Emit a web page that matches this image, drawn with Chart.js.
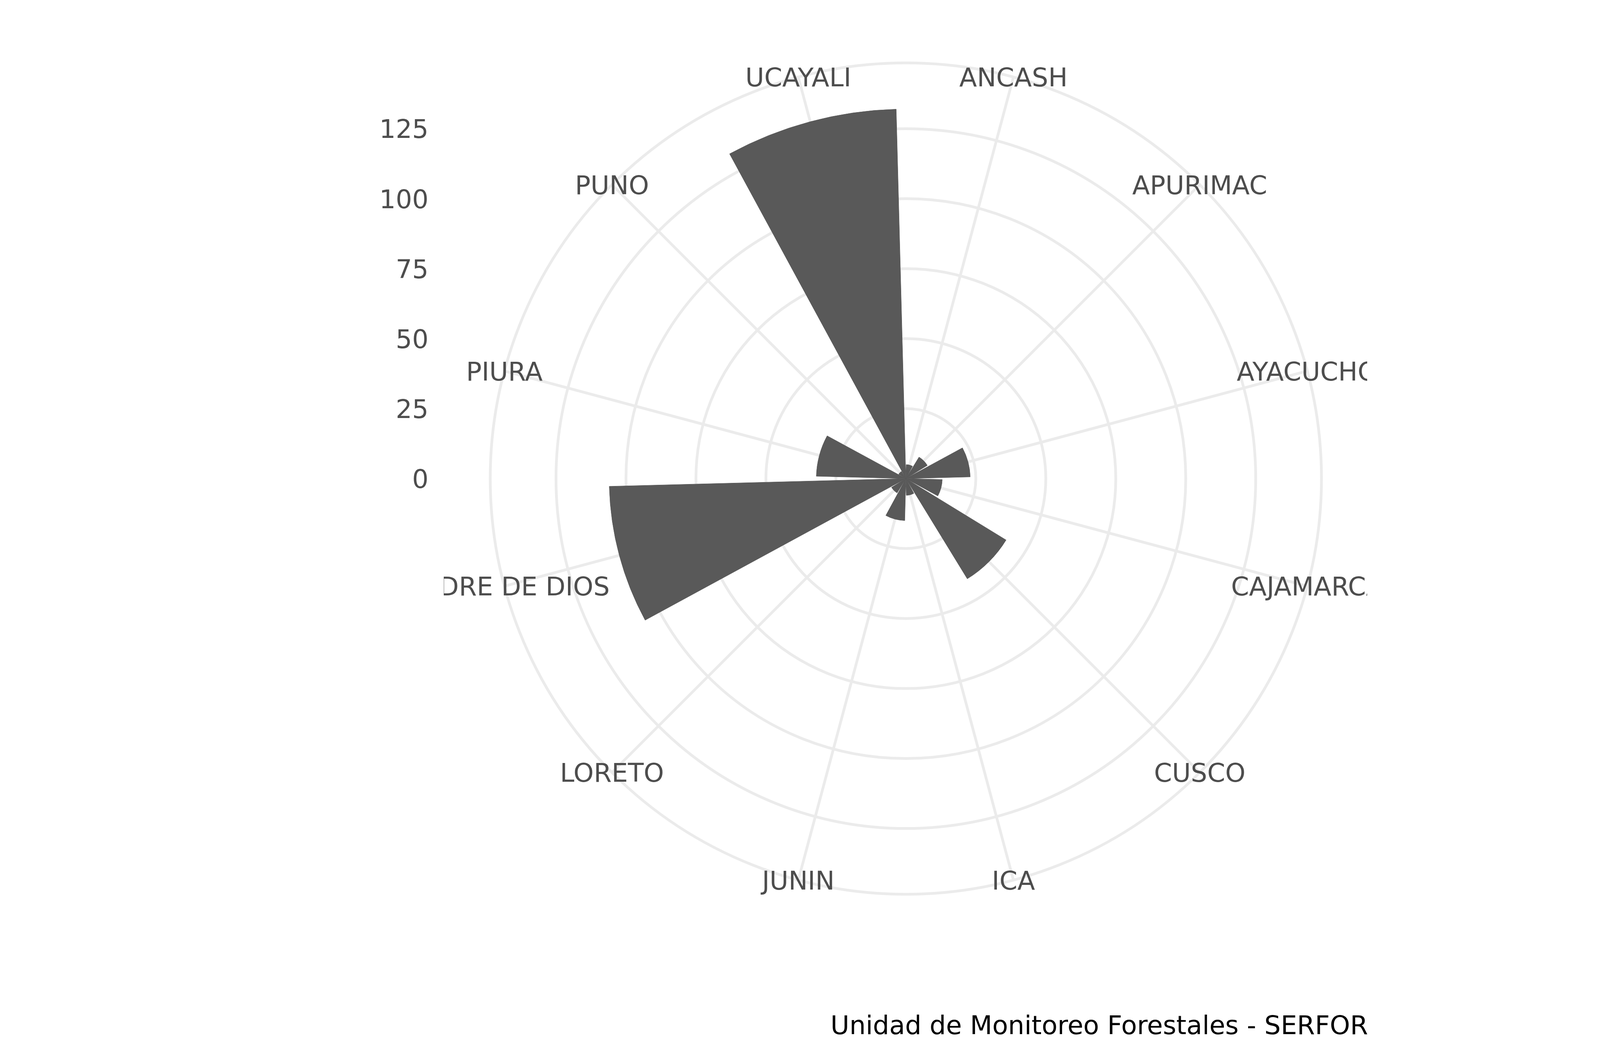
<!DOCTYPE html>
<html lang="es">
  <head>
    <meta charset="UTF-8" />
    <title>Departamentos - SERFOR</title>
    <style>
      html, body { margin: 0; padding: 0; background: #fff; }
      #caja { width: 4375px; height: 2703px; }
    </style>
  </head>
  <body>
    <div id="caja">
      <canvas id="lienzo"></canvas>
    </div>
    <script src="https://cdn.jsdelivr.net/npm/chart.js"></script>
    <script>
      // datos
      const departamentos = ["ANCASH", "APURIMAC", "AYACUCHO", "CAJAMARCA", "CUSCO", "ICA",
        "JUNIN", "LORETO", "MADRE DE DIOS", "PIURA", "PUNO", "UCAYALI"];
      const cantidades = [5, 9, 23, 13, 42, 6, 15, 6, 106, 32, 3, 132];
      const marcasEje = [0, 25, 50, 75, 100, 125];
      const radioMax = 148.5;
      const nota = "Unidad de Monitoreo Forestales - SERFOR";

      const gris = "#595959";
      const fuente = '66px "DejaVu Sans"';

      // cada barra ocupa 0.9 de su sector de 30 grados; la primera se parte en dos
      const paso = 360 / departamentos.length;
      const anchoBarra = paso * 0.9;
      const hueco = paso - anchoBarra;
      const sectores = [{ v: cantidades[0], a: anchoBarra / 2 }];
      for (let i = 1; i < cantidades.length; i++) {
        sectores.push({ v: 0, a: hueco, hueco: true });
        sectores.push({ v: cantidades[i], a: anchoBarra });
      }
      sectores.push({ v: 0, a: hueco, hueco: true });
      sectores.push({ v: cantidades[0], a: anchoBarra / 2 });

      const textos = {
        id: "textos",
        afterDraw(chart) {
          const ctx = chart.ctx;
          const r = chart.scales.r;
          ctx.save();
          ctx.font = fuente;
          // etiquetas de los departamentos, recortadas al panel
          ctx.save();
          ctx.beginPath();
          ctx.rect(1136, 0, 3500 - 1136, 2703);
          ctx.clip();
          ctx.fillStyle = "#4D4D4D";
          ctx.textAlign = "center";
          ctx.textBaseline = "alphabetic";
          departamentos.forEach((d, i) => {
            const p = r.getPointPosition(i, r.drawingArea);
            ctx.fillText(d, p.x, p.y + 24);
          });
          ctx.restore();
          // eje radial a la izquierda
          ctx.fillStyle = "#4D4D4D";
          ctx.textAlign = "right";
          ctx.textBaseline = "alphabetic";
          marcasEje.forEach((v) => {
            const y = r.yCenter - r.getDistanceFromCenterForValue(v);
            ctx.fillText(String(v), 1097, y + 24);
          });
          // nota al pie
          ctx.fillStyle = "#000000";
          ctx.fillText(nota, 3502, 2647);
          ctx.restore();
        },
      };

      const contexto = document.querySelector("#lienzo");
      const grafico = new Chart(contexto, {
        type: "polarArea",
        data: {
          labels: departamentos,
          datasets: [
            {
              label: "Cantidad",
              data: sectores.map((s) => s.v),
              angle: (c) => sectores[c.dataIndex].a,
              backgroundColor: (c) => (sectores[c.dataIndex].hueco ? "rgba(0,0,0,0)" : gris),
              borderColor: gris,
              borderWidth: (c) => (sectores[c.dataIndex].hueco ? 0 : 1),
            },
          ],
        },
        options: {
          responsive: true,
          maintainAspectRatio: false,
          devicePixelRatio: 1,
          animation: false,
          events: [],
          layout: { padding: { left: 1255, right: 992, top: 161, bottom: 414 } },
          plugins: { legend: { display: false }, tooltip: { enabled: false } },
          scales: {
            r: {
              min: 0,
              max: radioMax,
              startAngle: paso / 2,
              afterBuildTicks: (eje) => {
                eje.ticks = marcasEje.concat([radioMax]).map((v) => ({ value: v }));
              },
              ticks: { display: false },
              pointLabels: { display: false },
              grid: { circular: true, color: "#EBEBEB", lineWidth: 7 },
              angleLines: { display: true, color: "#EBEBEB", lineWidth: 7 },
            },
          },
        },
        plugins: [textos],
      });
    </script>
  </body>
</html>
